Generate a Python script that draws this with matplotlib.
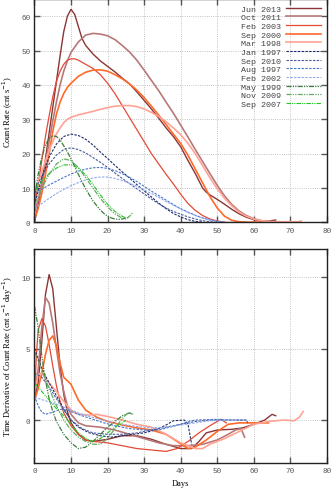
import numpy as np
import matplotlib
matplotlib.use('Agg')
import matplotlib.pyplot as plt

# ---- count rate curves (top panel) ----
jun2013_t = [0, 1, 2, 3, 4, 5, 6, 7, 8, 9, 10, 11, 12, 13, 14, 16, 18, 20, 22, 24, 26, 28, 30, 32, 34, 36, 38, 40, 42, 44, 46, 47, 48, 50, 52, 54, 56, 58, 60, 62, 64, 66]
jun2013_c = [0, 5, 11.5, 18.5, 26, 33.5, 41, 48.5, 55.5, 60, 62, 60.5, 57, 53.5, 51.5, 49, 47, 45.4, 43.8, 42, 40.3, 38, 35.5, 33, 30.3, 27.5, 25, 22, 18, 14.2, 10, 8.8, 8, 6.7, 5.3, 3.8, 2.5, 1.5, 0.8, 0.4, 0.4, 0.7]

oct2011_t = [0, 1, 2, 3, 4, 5, 6, 7, 8, 9, 10, 12, 14, 16, 18, 20, 22, 24, 26, 28, 30, 32, 34, 36, 38, 40, 42, 44, 46, 48, 50, 52, 54, 56, 58, 60, 62, 64]
oct2011_c = [3, 6.5, 11, 17, 23.5, 29.5, 35, 40, 44, 47, 49.5, 52.5, 54.5, 55, 54.8, 54.3, 53.2, 51.5, 49.6, 47.2, 44.3, 41.3, 38.3, 35, 31.8, 28.3, 24.8, 21.2, 17.7, 14.2, 10.8, 7.7, 5.2, 3.3, 2.0, 1.1, 0.5, 0.2]

feb2003_t = [0, 1, 2, 3, 4, 5, 6, 7, 8, 9, 10, 11, 12, 14, 16, 18, 20, 22, 24, 26, 28, 30, 32, 34, 36, 38, 40, 42, 44, 46, 48, 50, 52]
feb2003_c = [5, 11, 18, 25, 31, 36.5, 41, 44, 46, 47.2, 47.6, 47.6, 47.2, 46, 44.8, 43, 40.5, 37.5, 34, 30.5, 27, 23.5, 20, 17, 14, 11.2, 8.2, 5.5, 3.5, 2, 1, 0.4, 0.1]

sep2000_t = [0, 1, 2, 3, 4, 5, 6, 7, 8, 9, 10, 12, 14, 16, 18, 20, 22, 24, 26, 28, 30, 32, 34, 36, 38, 40, 42, 44, 46, 48, 50, 52, 54, 56, 58, 60, 62, 64]
sep2000_c = [1, 4, 8.5, 14, 20, 26.5, 31.5, 35, 37.5, 39.3, 40.5, 42.5, 43.7, 44.3, 44.4, 44, 43, 41.8, 40.3, 38.5, 36.3, 33.8, 31.2, 28.5, 25.7, 23, 19.5, 15.5, 11.5, 7.5, 4.2, 1.8, 0.6, 0.2, 0.1, 0.1, 0.1, 0.1]

mar1998_t = [0, 1, 2, 3, 4, 5, 6, 7, 8, 9, 10, 12, 14, 16, 18, 20, 22, 24, 26, 28, 30, 32, 34, 36, 38, 40, 42, 44, 46, 48, 50, 52, 54, 56, 58, 60, 62, 64, 66, 68, 70, 72, 73]
mar1998_c = [9, 11.5, 14.8, 18, 21, 23.5, 25.8, 27.5, 29, 30, 30.6, 31.3, 31.8, 32.3, 32.9, 33.4, 33.8, 34, 34, 33.7, 33, 32, 30.8, 29.3, 27.5, 25.5, 23, 20, 16.5, 13, 9.8, 7, 4.8, 3, 1.8, 1, 0.5, 0.3, 0.2, 0.2, 0.2, 0.2, 0.4]

jan1997_t = [0, 2, 4, 6, 8, 10, 12, 14, 16, 18, 20, 22, 24, 26, 28, 30, 32, 34, 36, 38, 40, 42, 44, 46]
jan1997_c = [5, 13, 19, 22.8, 25, 25.7, 25.3, 24.2, 22.5, 20.5, 18.6, 16.6, 14.7, 12.9, 11, 9.2, 7.4, 5.6, 4, 2.6, 1.6, 0.8, 0.3, 0.1]

sep2010_t = [0, 2, 4, 6, 8, 10, 12, 14, 16, 18, 20, 22, 24, 26, 28, 30, 32, 34, 36, 38, 40, 42, 44, 46, 48, 50, 54, 58]
sep2010_c = [9, 13.5, 17, 19.6, 21.2, 21.7, 21.2, 20.2, 18.9, 17.5, 16, 14.4, 12.8, 11.3, 9.8, 8.3, 6.8, 5.4, 4.2, 3.2, 2.4, 1.6, 1, 0.5, 0.2, 0.05, 0, 0]

aug1997_t = [0, 2, 4, 6, 8, 10, 12, 14, 16, 18, 20, 22, 24, 26, 28, 30, 32, 34, 36, 38, 40, 42, 44, 46, 48, 50, 52]
aug1997_c = [8.5, 9.7, 10.9, 12, 13.1, 14.1, 14.9, 15.5, 15.9, 16, 15.7, 15.1, 14.2, 13.1, 11.9, 10.5, 9.1, 7.8, 6.5, 5.2, 4, 3, 2.1, 1.3, 0.7, 0.3, 0.1]

feb2002_t = [0, 2, 4, 6, 8, 10, 12, 14, 16, 18, 20, 22, 24, 26, 28, 30, 32, 34, 36, 38, 40, 42, 44, 46, 48, 50, 52]
feb2002_c = [4, 5.5, 7, 8.4, 9.6, 10.7, 11.6, 12.4, 12.9, 13.2, 13.2, 12.8, 12.2, 11.4, 10.5, 9.5, 8.4, 7.3, 6.1, 5, 3.9, 2.9, 2, 1.3, 0.7, 0.3, 0.1]

may1999_t = [0, 1, 2, 3, 4, 5, 6, 7, 8, 9, 10, 11, 12, 13, 14, 15, 16, 17, 18, 19, 20, 21, 22, 23, 24, 25, 26]
may1999_c = [7, 14, 19, 22.5, 24.5, 25.2, 25, 24, 22.3, 20.5, 18.5, 16.3, 14, 11.8, 9.8, 8, 6.3, 4.9, 3.6, 2.6, 1.8, 1.3, 1, 0.9, 1, 1.3, 1.5]

nov2009_t = [0, 2, 4, 6, 8, 10, 12, 14, 16, 18, 20, 22, 24, 25, 26, 27]
nov2009_c = [5, 10, 14, 17, 18.5, 18, 16, 13, 10, 7, 4.5, 2.5, 1.2, 1, 1.8, 3]

sep2007_t = [0, 2, 4, 6, 8, 10, 12, 14, 16, 18, 20, 22, 24, 25]
sep2007_c = [9, 12, 14.2, 15.8, 16.7, 16.8, 15.8, 13.8, 11, 8, 5.3, 3.2, 1.8, 1.3]

# ---- time derivative curves (bottom panel) ----
jun2013_dt = [0, 1, 2, 3, 4, 5, 6, 7, 8, 9, 10, 12, 14, 16, 20, 24, 28, 32, 36, 40, 43, 45, 47, 50, 54, 57, 60, 63, 65, 66]
jun2013_d = [1.5, 2.6, 5.5, 8.8, 10.2, 9.2, 6.5, 3.8, 1.8, 0.6, -0.2, -1.0, -1.4, -1.5, -1.35, -1.1, -1.1, -1.35, -1.7, -2.0, -2.0, -1.5, -0.9, -0.7, -0.65, -0.55, -0.3, 0.0, 0.4, 0.3]

oct2011_dt = [0, 1, 2, 3, 4, 5, 6, 7, 8, 9, 10, 12, 14, 18, 22, 26, 30, 34, 38, 42, 46, 50, 53, 55, 56.5, 57.5]
oct2011_d = [1.8, 3.5, 6.5, 8.6, 8.2, 6.8, 5.0, 3.3, 2.0, 1.0, 0.4, -0.2, -0.4, -0.5, -0.7, -1.0, -1.3, -1.6, -1.8, -1.8, -1.7, -1.4, -1.0, -0.7, -0.6, -1.2]

feb2003_dt = [0, 0.5, 1, 2, 3, 4, 5, 6, 7, 8, 10, 12, 14, 16, 20, 24, 28, 32, 36, 39, 42, 45, 48, 50, 51, 52.5]
feb2003_d = [1.6, 4.5, 6.3, 7.1, 6.6, 5.3, 3.8, 2.4, 1.3, 0.5, -0.4, -1.0, -1.4, -1.5, -1.6, -1.8, -2.0, -2.1, -2.2, -2.0, -1.5, -0.9, -0.4, -0.1, 0.05, -0.2]

sep2000_dt = [0, 1, 2, 3, 4, 5, 6, 7, 8, 10, 12, 14, 17, 20, 24, 28, 32, 36, 39, 42, 44, 47, 50, 53, 56, 60, 64]
sep2000_d = [1.4, 2.2, 3.3, 4.6, 5.6, 5.9, 5.2, 4.0, 3.0, 2.5, 1.4, 0.7, 0.2, -0.1, -0.35, -0.55, -0.7, -1.0, -1.5, -2.0, -1.9, -1.4, -0.8, -0.3, -0.2, -0.2, -0.2]

mar1998_dt = [0, 1, 2, 3, 4, 6, 8, 10, 12, 15, 17, 20, 24, 28, 32, 36, 40, 44, 46, 48, 52, 56, 60, 64, 68, 71, 72.5, 73.5]
mar1998_d = [2.0, 3.2, 3.3, 2.9, 2.6, 2.0, 1.3, 0.7, 0.4, 0.35, 0.4, 0.25, 0.0, -0.3, -0.5, -1.0, -1.6, -2.0, -2.0, -1.7, -1.3, -0.8, -0.3, -0.1, 0.0, -0.05, 0.2, 0.6]

jan1997_dt = [0, 1, 2, 4, 6, 8, 10, 12, 15, 18, 21, 24, 27, 30, 33, 36, 38, 41, 42, 43]
jan1997_d = [5.0, 4.3, 3.6, 2.6, 1.7, 0.8, 0.0, -0.5, -0.9, -1.1, -1.2, -1.1, -1.0, -0.9, -0.7, -0.35, -0.05, 0.0, -0.3, -1.7]

sep2010_dt = [0, 2, 4, 6, 8, 10, 13, 16, 20, 24, 28, 32, 36, 40, 44, 48, 52, 55, 58, 58.5]
sep2010_d = [3.3, 3.0, 2.3, 1.5, 0.7, 0.0, -0.6, -0.9, -1.0, -1.0, -0.9, -0.7, -0.5, -0.3, -0.1, 0.0, 0.0, 0.0, 0.0, -0.3]

aug1997_dt = [0, 1, 2, 3, 5, 7, 9, 11, 13, 16, 19, 22, 26, 30, 34, 37, 40, 42, 44, 50, 55, 58]
aug1997_d = [1.7, 1.0, 0.55, 0.4, 0.55, 0.75, 0.7, 0.5, 0.3, 0.05, -0.2, -0.4, -0.6, -0.7, -0.7, -0.5, -0.3, -0.1, 0.0, 0.05, 0.0, 0.0]

feb2002_dt = [0, 3, 6, 9, 12, 15, 18, 21, 24, 28, 32, 36, 40, 44, 48, 52, 55]
feb2002_d = [1.6, 1.35, 1.1, 0.8, 0.5, 0.25, 0.05, -0.15, -0.3, -0.45, -0.55, -0.5, -0.35, -0.2, -0.05, 0.0, 0.0]

may1999_dt = [0, 1, 2, 3, 4, 5, 6, 8, 10, 12, 14, 16, 18, 20, 22, 24, 26, 27]
may1999_d = [8.0, 6.5, 4.5, 2.8, 1.5, 0.6, -0.1, -1.0, -1.6, -2.0, -1.9, -1.5, -1.0, -0.5, -0.1, 0.3, 0.5, 0.4]

nov2009_dt = [0, 2, 4, 6, 8, 10, 12, 14, 16, 18, 20, 22, 24, 25.5, 27]
nov2009_d = [4.8, 3.5, 2.2, 1.0, 0.0, -0.7, -1.2, -1.5, -1.7, -1.7, -1.3, -0.6, 0.1, 0.5, 0.4]

sep2007_dt = [0, 2, 4, 6, 8, 10, 12, 14, 16, 18, 20, 22, 24, 25]
sep2007_d = [2.6, 2.0, 1.4, 0.8, 0.3, -0.3, -0.9, -1.3, -1.5, -1.3, -0.9, -0.5, -0.2, 0.0]

labels = ['Jun 2013', 'Oct 2011', 'Feb 2003', 'Sep 2000', 'Mar 1998',
          'Jan 1997', 'Sep 2010', 'Aug 1997', 'Feb 2002',
          'May 1999', 'Nov 2009', 'Sep 2007']

top_data = [(jun2013_t, jun2013_c), (oct2011_t, oct2011_c), (feb2003_t, feb2003_c),
            (sep2000_t, sep2000_c), (mar1998_t, mar1998_c), (jan1997_t, jan1997_c),
            (sep2010_t, sep2010_c), (aug1997_t, aug1997_c), (feb2002_t, feb2002_c),
            (may1999_t, may1999_c), (nov2009_t, nov2009_c), (sep2007_t, sep2007_c)]
bot_data = [(jun2013_dt, jun2013_d), (oct2011_dt, oct2011_d), (feb2003_dt, feb2003_d),
            (sep2000_dt, sep2000_d), (mar1998_dt, mar1998_d), (jan1997_dt, jan1997_d),
            (sep2010_dt, sep2010_d), (aug1997_dt, aug1997_d), (feb2002_dt, feb2002_d),
            (may1999_dt, may1999_d), (nov2009_dt, nov2009_d), (sep2007_dt, sep2007_d)]

colors = ['#8b3535', '#b87878', '#e34a36', '#ff6a2a', '#ffa394',
          '#1c2a6a', '#4a5a9c', '#4a76c8', '#92aaf0',
          '#3d7d3d', '#62aa62', '#22c422']
dash = (0, (2.2, 1.2))
dashdot = (0, (4, 1, 1, 1, 1, 1))
styles = ['-'] * 5 + [dash] * 4 + [dashdot] * 3
widths = [1.0, 1.2, 0.9, 1.2, 1.2, 0.8, 0.8, 0.8, 0.8, 0.9, 0.9, 0.8]

fig = plt.figure(figsize=(3.33, 4.89), dpi=100)
ax1 = fig.add_axes([0.1036, 0.5431, 0.878, 0.4569])
ax2 = fig.add_axes([0.1036, 0.0515, 0.878, 0.4374])

for i in range(len(labels)):
    ax1.plot(top_data[i][0], top_data[i][1], color=colors[i], ls=styles[i], lw=widths[i], label=labels[i])
    ax2.plot(bot_data[i][0], bot_data[i][1], color=colors[i], ls=styles[i], lw=widths[i])

ax1.set_xlim(0, 80)
ax1.set_ylim(0, 65)
ax1.set_yticks([0, 10, 20, 30, 40, 50, 60])
ax2.set_xlim(0, 80)
ax2.set_ylim(-3, 12)
ax2.set_yticks([0, 5, 10])

for ax in (ax1, ax2):
    ax.set_xticks(np.arange(0, 81, 10))
    ax.grid(True, ls=':', color='#b0b0b0', lw=0.6)
    ax.tick_params(direction='in', length=4, width=1, color='#555555', top=True, right=True,
                   labelsize=5.5, labelcolor='#555555', pad=3)
    for lab in ax.get_xticklabels() + ax.get_yticklabels():
        lab.set_fontfamily('Liberation Mono')
    for s in ax.spines.values():
        s.set_color('#222222')
        s.set_linewidth(1.0)

ax1.set_ylabel('Count Rate (cnt s$^{-1}$)', family='Liberation Serif', fontsize=6)
ax1.yaxis.set_label_coords(-0.068, 0.5)
ax2.set_ylabel('Time Derivative of Count Rate (cnt s$^{-1}$ day$^{-1}$)', family='Liberation Serif', fontsize=6)
ax2.yaxis.set_label_coords(-0.068, 0.5)
ax2.set_xlabel('Days', family='Liberation Serif', fontsize=6)
ax2.xaxis.set_label_coords(0.5, -0.075)

leg = ax1.legend(loc='upper right', frameon=False, markerfirst=False,
                 prop={'family': 'Liberation Mono', 'size': 6}, labelspacing=0.1,
                 handlelength=4.2, handletextpad=0.6, borderaxespad=0.3)
for t in leg.get_texts():
    t.set_color('#444444')

fig.savefig('out.png', dpi=100)
